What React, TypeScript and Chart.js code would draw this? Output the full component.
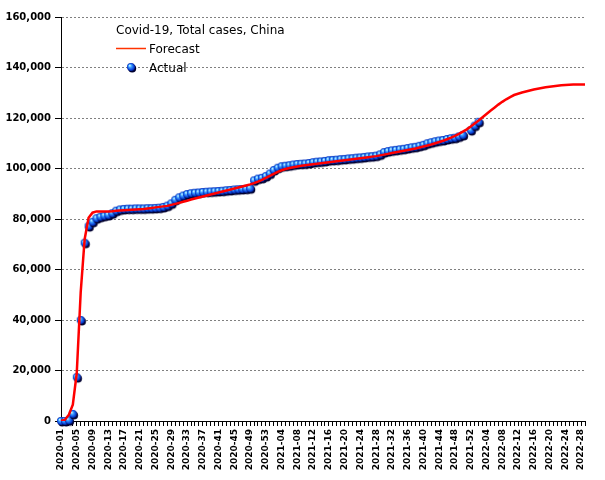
import React, { useEffect, useRef } from 'react';
import { Chart, registerables } from 'chart.js';
Chart.register(...registerables);

const chartTitle = 'Covid-19, Total cases, China';
const seriesNames = ['Forecast', 'Actual'];

const years = [2020, 2021, 2022];
const weeksPerYear = [53, 52, 29];

const yTicks = [0, 20000, 40000, 60000, 80000, 100000, 120000, 140000, 160000];

// Weekly forecast values, index 0 = 2020-01
const forecast: number[] = [
  0, 500, 2500, 6500, 19000, 51000, 72000, 80500, 82500, 83000,
  83000, 83000, 83000, 83100, 83300, 83400, 83500, 83600, 83700, 83800,
  83900, 84000, 84200, 84400, 84600, 84800, 85000, 85200, 85600, 86000,
  86400, 86800, 87200, 87700, 88100, 88500, 88900, 89300, 89700, 90100,
  90500, 90900, 91300, 91700, 92100, 92500, 92900, 93300, 93700, 94200,
  94800, 95500, 96300, 97100, 97900, 98700, 99300, 99800, 100200, 100500,
  100800, 101100, 101300, 101500, 101700, 101900, 102100, 102300, 102500, 102700,
  102900, 103100, 103300, 103500, 103700, 103900, 104100, 104300, 104500, 104700,
  104900, 105200, 105500, 105800, 106100, 106400, 106700, 107000, 107300, 107600,
  107900, 108300, 108700, 109100, 109500, 110000, 110500, 111000, 111600, 112200,
  112900, 113700, 114600, 115500, 116600, 117800, 119000, 120300, 121600, 122900,
  124100, 125300, 126400, 127400, 128300, 129100, 129600, 130100, 130500, 130900,
  131300, 131600, 131900, 132200, 132400, 132600, 132800, 133000, 133100, 133200,
  133300, 133300, 133300, 133300,
];

// Weekly actual values, index 0 = 2020-01
const actual: (number | null)[] = [
  0, 0, 300, 2800, 17400, 40000, 70600, 77200, 78900, 80300,
  80900, 81300, 81600, 82300, 83300, 83800, 84000, 84100, 84100, 84200,
  84200, 84200, 84300, 84300, 84400, 84500, 84800, 85300, 86200, 87600,
  88600, 89300, 89900, 90200, 90400, 90500, 90700, 90800, 90900, 91000,
  91100, 91200, 91400, 91500, 91700, 91800, 91900, 92000, 92200, 95300,
  96000, 96300, 97000, 98000, 99400, 100300, 100900, 101100, 101300, 101600,
  101800, 101900, 102000, 102200, 102500, 102700, 102800, 103000, 103300, 103400,
  103500, 103700, 103800, 104000, 104100, 104300, 104400, 104600, 104800, 104900,
  105100, 105600, 106500, 106900, 107200, 107400, 107600, 107800, 108100, 108400,
  108600, 109000, 109400, 110000, 110400, 110800, 111100, 111300, 111700, 112000,
  112200, 112700, 113300, null, 115200, 117000, 118500,
];

function buildLabels(): string[] {
  const out: string[] = [];
  years.forEach((y, k) => {
    for (let w = 1; w <= weeksPerYear[k]; w++) {
      out.push(`${y}-${w < 10 ? '0' + w : w}`);
    }
  });
  return out;
}

function makeSphere(r: number): HTMLCanvasElement {
  const size = Math.ceil(r * 2 + 6);
  const c = document.createElement('canvas');
  c.width = size;
  c.height = size;
  const g = c.getContext('2d')!;
  const cx = size / 2;
  const cy = size / 2;
  g.fillStyle = '#000030';
  g.beginPath();
  g.arc(cx + 1.2, cy + 1.6, r, 0, Math.PI * 2);
  g.fill();
  const grad = g.createRadialGradient(cx - r * 0.35, cy - r * 0.4, r * 0.1, cx, cy, r);
  grad.addColorStop(0, '#c0f0ff');
  grad.addColorStop(0.35, '#3a9cff');
  grad.addColorStop(0.8, '#0a40d8');
  grad.addColorStop(1, '#002090');
  g.fillStyle = grad;
  g.beginPath();
  g.arc(cx, cy, r, 0, Math.PI * 2);
  g.fill();
  return c;
}

export default function App() {
  const ref = useRef<HTMLCanvasElement | null>(null);

  useEffect(() => {
    if (!ref.current) return;
    const labels = buildLabels();
    const sphere = makeSphere(4);
    const legendSphere = makeSphere(4);

    const legendPlugin = {
      id: 'insideLegend',
      afterDraw(chart: any) {
        const ctx = chart.ctx as CanvasRenderingContext2D;
        const a = chart.chartArea;
        const x0 = a.left + 55;
        const y0 = a.top;
        ctx.save();
        ctx.font = '12px "DejaVu Sans"';
        ctx.fillStyle = '#000000';
        ctx.textBaseline = 'alphabetic';
        ctx.textAlign = 'left';
        ctx.fillText(chartTitle, x0, y0 + 17);
        ctx.strokeStyle = '#ff3300';
        ctx.lineWidth = 1.5;
        ctx.beginPath();
        ctx.moveTo(x0, y0 + 31.5);
        ctx.lineTo(x0 + 30, y0 + 31.5);
        ctx.stroke();
        ctx.fillText(seriesNames[0], x0 + 33, y0 + 35.5);
        ctx.drawImage(legendSphere, x0 + 15 - legendSphere.width / 2, y0 + 50 - legendSphere.height / 2);
        ctx.fillText(seriesNames[1], x0 + 33, y0 + 54.5);
        ctx.restore();
      },
    };

    const chart = new Chart(ref.current, {
      type: 'line',
      data: {
        labels,
        datasets: [
          {
            label: seriesNames[0],
            data: forecast,
            borderColor: '#ff0000',
            backgroundColor: '#ff0000',
            borderWidth: 2.5,
            pointRadius: 0,
            tension: 0,
            fill: false,
          },
          {
            label: seriesNames[1],
            data: actual,
            showLine: false,
            pointStyle: sphere as any,
            pointRadius: 4,
            borderWidth: 0,
            clip: false as any,
          },
        ],
      },
      plugins: [legendPlugin],
      options: {
        responsive: false,
        animation: false,
        events: [],
        layout: { padding: { top: 17, right: 20, left: 0, bottom: 0 } },
        plugins: {
          legend: { display: false },
          tooltip: { enabled: false },
          title: { display: false },
        },
        scales: {
          x: {
            type: 'category',
            offset: false,
            afterFit(scale: any) {
              scale.height = 59;
            },
            grid: {
              display: true,
              drawOnChartArea: false,
              drawTicks: true,
              tickLength: 5,
              tickColor: '#000000',
              color: '#000000',
            },
            border: { display: true, color: '#000000', width: 1 },
            ticks: {
              autoSkip: false,
              maxRotation: 90,
              minRotation: 90,
              padding: 3,
              color: '#000000',
              font: { family: 'DejaVu Sans', size: 9, weight: 'bold' },
              callback(_v: any, index: number) {
                return index % 4 === 0 ? labels[index] : '';
              },
            },
          },
          y: {
            min: 0,
            max: 160000,
            afterFit(scale: any) {
              scale.width = 61;
            },
            afterBuildTicks(scale: any) {
              scale.ticks = yTicks.map((v) => ({ value: v }));
            },
            grid: {
              display: true,
              drawOnChartArea: true,
              drawTicks: true,
              tickLength: 6,
              tickColor: '#000000',
              color: '#808080',
              lineWidth: 1,
            },
            border: { display: true, color: '#000000', width: 1, dash: [2, 2] },
            ticks: {
              padding: 4,
              color: '#000000',
              font: { family: 'DejaVu Sans', size: 10, weight: 'bold' },
              callback(v: any) {
                return Number(v).toLocaleString('en-US');
              },
            },
          },
        },
      },
    });
    return () => chart.destroy();
  }, []);

  return (
    <div style={{ position: 'absolute', left: 0, top: 0, width: 605, height: 480, background: '#ffffff' }}>
      <canvas ref={ref} width={605} height={480} style={{ display: 'block' }} />
    </div>
  );
}
